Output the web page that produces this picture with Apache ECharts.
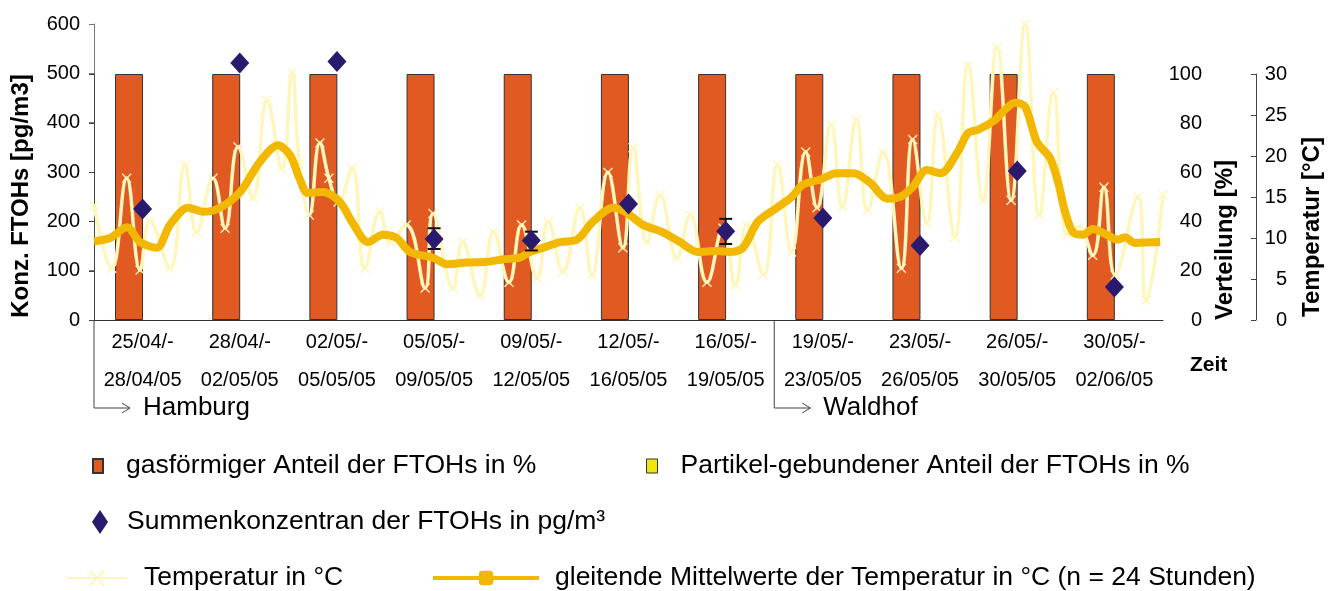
<!DOCTYPE html>
<html>
<head>
<meta charset="utf-8">
<script src="https://cdn.jsdelivr.net/npm/echarts@6/dist/echarts.min.js"></script>
<style>
  html, body { margin: 0; padding: 0; background: #fff; }
  #chart { width: 1335px; height: 591px; }
</style>
</head>
<body>
<div id="chart"></div>
<script>
// sampling periods, two label lines each
const periodStart = ['25/04/-', '28/04/-', '02/05/-', '05/05/-', '09/05/-', '12/05/-', '16/05/-', '19/05/-', '23/05/-', '26/05/-', '30/05/-']
const periodEnd = ['28/04/05', '02/05/05', '05/05/05', '09/05/05', '12/05/05', '16/05/05', '19/05/05', '23/05/05', '26/05/05', '30/05/05', '02/06/05']

// distribution gas / particle in %
const gasShare = [100, 100, 100, 100, 100, 100, 100, 100, 100, 100, 100]
const particleShare = [0, 0, 0, 0, 0, 0, 0, 0, 0, 0, 0]

// sum concentration in pg/m3 and error range
const sumConc = [225, 521, 524, 164, 161, 235, 180, 207, 151, 302, 67]
const errIndex = [3, 4, 6]
const errLow = [144, 141, 154]
const errHigh = [186, 179, 205]

// hourly temperature, read at turning points (day since 25/04, °C)
const tempDay = [0, 0.63, 1.16, 1.64, 1.99, 2.7, 3.23, 3.65, 4.23, 4.66, 5.12, 5.65, 6.15, 6.68, 7.04, 7.3, 7.65, 8.03, 8.35, 8.68,
  9.17, 9.63, 10.17, 10.52, 11.1, 11.77, 12.05, 12.76, 13.1, 13.72, 14.2, 14.75, 15.2, 15.75, 16.15, 16.67, 17.27, 17.7, 18.27, 18.8,
  19.16, 19.66, 20.12, 20.72, 21.19, 21.79, 22.36, 22.8, 23.2, 23.8, 24.3, 24.8, 25.3, 25.7, 26.2, 26.6, 27.1, 27.5, 28.05, 28.7,
  29.1, 29.6, 30.0, 30.6, 31.07, 31.6, 32.1, 32.6, 33.1, 33.6, 34.1, 34.6, 35.0, 35.5, 35.9, 36.3, 37.1, 37.4, 38.0]
const tempValue = [14.0, 6.3, 17.3, 6.1, 12.0, 6.3, 18.9, 10.7, 17.3, 11.2, 21.1, 14.9, 26.8, 18.5, 30.2, 19.0, 12.8, 21.6, 17.3, 14.4,
  18.5, 6.3, 13.2, 9.5, 11.6, 3.9, 13.0, 3.9, 9.5, 3.0, 10.7, 4.6, 11.6, 5.1, 12.0, 5.9, 13.7, 5.5, 18.0, 8.8,
  21.0, 9.5, 15.2, 7.6, 12.8, 4.6, 11.2, 4.3, 11.6, 5.5, 18.9, 8.3, 20.5, 13.7, 23.8, 13.8, 24.4, 13.4, 20.4, 6.3,
  22.0, 11.8, 25.0, 10.1, 31.1, 14.6, 33.2, 14.6, 36.0, 12.8, 27.7, 10.4, 11.3, 7.9, 16.2, 5.5, 15.0, 2.4, 15.2]

// 24 h moving average (day, °C)
const avgDay = [0, 0.57, 1.17, 1.64, 2.23, 2.7, 3.34, 3.88, 4.48, 5.19, 5.9, 6.54, 6.97, 7.3, 7.6, 8.14, 8.74, 9.2, 9.74, 10.27,
  10.76, 11.23, 12.05, 12.55, 13.25, 13.97, 14.55, 15.14, 15.5, 15.96, 16.57, 17.17, 17.74, 18.45, 18.88, 19.52, 20.23, 20.83, 21.47, 22.15,
  22.6, 23.07, 23.6, 24.28, 24.8, 25.2, 25.8, 26.4, 27.0, 27.6, 28.2, 28.65, 29.1, 29.6, 30.1, 30.7, 31.07, 31.43, 32.03, 32.31,
  32.74, 33.1, 33.52, 33.98, 34.27, 34.52, 34.8, 35.16, 35.5, 36.0, 36.4, 36.65, 37.0, 37.9]
const avgValue = [9.6, 10.0, 11.3, 9.5, 8.8, 11.6, 13.7, 13.2, 13.7, 15.6, 19.3, 21.3, 20.1, 17.3, 15.5, 15.6, 14.4, 11.8, 9.5, 10.4,
  10.0, 8.3, 7.6, 6.8, 7.0, 7.1, 7.4, 7.6, 8.3, 8.8, 9.5, 9.8, 12.0, 13.7, 13.2, 11.6, 10.7, 9.5, 8.3, 8.4,
  8.3, 8.8, 12.0, 13.7, 15.0, 16.5, 17.1, 17.9, 17.9, 16.7, 14.8, 15.0, 16.2, 18.3, 17.9, 20.5, 22.8, 23.2, 24.4, 25.4,
  26.5, 26.0, 21.7, 19.8, 16.8, 13.2, 10.7, 10.4, 11.1, 10.4, 9.8, 10.1, 9.4, 9.5]

const sites = ['Hamburg', 'Waldhof']
const siteStart = [0, 7]

const FONT = 'Liberation Sans, Arial, sans-serif'
const names = {
  gas: 'gasförmiger Anteil der FTOHs in %',
  part: 'Partikel-gebundener Anteil der FTOHs in %',
  sum: 'Summenkonzentran der FTOHs in pg/m³',
  temp: 'Temperatur in °C',
  avg: 'gleitende Mittelwerte der Temperatur in °C (n = 24 Stunden)'
}

const categories = periodStart.map((s, i) => s + '\n' + periodEnd[i])
const tempData = tempDay.map((d, i) => [d, tempValue[i]])
const avgData = avgDay.map((d, i) => [d, avgValue[i]])
const errData = errIndex.map((c, i) => [c, errLow[i], errHigh[i]])

const xShape = 'path://M0,2 L2,0 L10,8 L18,0 L20,2 L12,10 L20,18 L18,20 L10,12 L2,20 L0,18 L8,10 Z'
const legendText = { fontFamily: FONT, fontSize: 26.5, color: '#000', lineHeight: 30 }
const axisName = { fontSize: 24, fontWeight: 'bold', color: '#000' }

const chart = echarts.init(document.getElementById('chart'))

const option = {
  animation: false,
  textStyle: { fontFamily: FONT },
  grid: [
    { left: 94, right: 172, top: 24, bottom: 271 },
    { left: 94, right: 172, top: 74, bottom: 271 }
  ],
  xAxis: [
    {
      type: 'category',
      gridIndex: 0,
      data: categories,
      axisLine: { lineStyle: { color: '#333', width: 1 } },
      axisTick: { length: 5, lineStyle: { color: '#333' } },
      axisLabel: { color: '#000', fontSize: 20, lineHeight: 38, margin: 3, interval: 0 },
      name: 'Zeit',
      nameLocation: 'end',
      nameGap: 27,
      nameTextStyle: { fontSize: 21, fontWeight: 'bold', color: '#000', verticalAlign: 'top', lineHeight: 90 }
    },
    { type: 'category', gridIndex: 1, data: categories, show: false },
    { type: 'value', gridIndex: 1, min: 0, max: 38, show: false }
  ],
  yAxis: [
    {
      type: 'value',
      gridIndex: 0,
      min: 0,
      max: 600,
      interval: 100,
      name: 'Konz. FTOHs [pg/m3]',
      nameLocation: 'middle',
      nameGap: 61,
      nameTextStyle: Object.assign({ padding: [0, 48, 0, 0] }, axisName),
      axisLine: { show: true, lineStyle: { color: '#777' } },
      axisTick: { show: true, length: 5, lineStyle: { color: '#777' } },
      axisLabel: { color: '#000', fontSize: 20, margin: 14 },
      splitLine: { show: false }
    },
    {
      type: 'value',
      gridIndex: 1,
      position: 'right',
      min: 0,
      max: 100,
      interval: 20,
      name: 'Verteilung [%]',
      nameLocation: 'middle',
      nameGap: 48,
      nameTextStyle: Object.assign({ padding: [0, 86, 0, 0] }, axisName),
      axisLine: { show: true, lineStyle: { color: '#444' } },
      axisTick: { show: true, inside: true, length: 5, lineStyle: { color: '#444' } },
      axisLabel: { color: '#000', fontSize: 20, margin: 39, align: 'right' },
      splitLine: { show: false }
    },
    {
      type: 'value',
      gridIndex: 1,
      position: 'right',
      offset: 93,
      min: 0,
      max: 30,
      interval: 5,
      name: 'Temperatur [°C]',
      nameLocation: 'middle',
      nameGap: 44,
      nameTextStyle: Object.assign({ padding: [0, 60, 0, 0] }, axisName),
      axisLine: { show: true, lineStyle: { color: '#444' } },
      axisTick: { show: true, inside: true, length: 5, lineStyle: { color: '#444' } },
      axisLabel: { color: '#000', fontSize: 20, margin: 31, align: 'right' },
      splitLine: { show: false }
    }
  ],
  legend: [
    {
      data: [{ name: names.gas, icon: 'rect' }], left: 92, top: 451, padding: 0, itemWidth: 10, itemHeight: 14,
      textStyle: Object.assign({ padding: [0, 0, 0, 18] }, legendText)
    },
    {
      data: [{ name: names.part, icon: 'rect' }], left: 646, top: 451, padding: 0, itemWidth: 11, itemHeight: 14,
      itemStyle: { borderColor: '#333', borderWidth: 1 },
      textStyle: Object.assign({ padding: [0, 0, 0, 18] }, legendText)
    },
    {
      data: [names.sum], left: 92, top: 507, padding: 0, itemWidth: 16, itemHeight: 24,
      textStyle: Object.assign({ padding: [0, 0, 0, 14] }, legendText)
    },
    {
      data: [names.temp], left: 66, top: 563, padding: 0, itemWidth: 60, itemHeight: 20,
      lineStyle: { width: 2 },
      textStyle: Object.assign({ padding: [0, 0, 0, 12] }, legendText)
    },
    {
      data: [names.avg], left: 431, top: 563, padding: 0, itemWidth: 106, itemHeight: 18,
      lineStyle: { width: 4 },
      textStyle: Object.assign({ padding: [0, 0, 0, 11] }, legendText)
    }
  ],
  series: [
    {
      name: names.gas,
      type: 'bar',
      xAxisIndex: 1,
      yAxisIndex: 1,
      data: gasShare,
      barWidth: 28,
      barGap: '-3%',
      itemStyle: { color: '#E05A22', borderColor: '#333', borderWidth: 1 },
      z: 1
    },
    {
      name: names.part,
      type: 'bar',
      xAxisIndex: 1,
      yAxisIndex: 1,
      data: particleShare,
      barWidth: 28,
      itemStyle: { color: '#EFE60C', borderWidth: 0 },
      z: 1
    },
    {
      name: names.temp,
      type: 'line',
      xAxisIndex: 2,
      yAxisIndex: 2,
      data: tempData,
      smooth: 0.45,
      clip: false,
      symbol: xShape,
      symbolSize: 10,
      showSymbol: true,
      lineStyle: { color: '#FFF6BC', width: 3.5 },
      itemStyle: { color: '#FFF6BC' },
      z: 2
    },
    {
      name: names.avg,
      type: 'line',
      xAxisIndex: 2,
      yAxisIndex: 2,
      data: avgData,
      smooth: 0.3,
      clip: false,
      symbol: 'roundRect',
      showSymbol: false,
      lineStyle: { color: '#F2B800', width: 8 },
      itemStyle: { color: '#F2B800' },
      z: 3
    },
    {
      name: 'err',
      type: 'custom',
      xAxisIndex: 0,
      yAxisIndex: 0,
      data: errData,
      z: 4,
      renderItem: (params, api) => {
        const c = api.value(0)
        const lo = api.coord([c, api.value(1)])
        const hi = api.coord([c, api.value(2)])
        const style = { stroke: '#111', lineWidth: 2 }
        return {
          type: 'group',
          children: [
            { type: 'line', shape: { x1: lo[0], y1: lo[1], x2: hi[0], y2: hi[1] }, style },
            { type: 'line', shape: { x1: lo[0] - 6.5, y1: lo[1], x2: lo[0] + 6.5, y2: lo[1] }, style },
            { type: 'line', shape: { x1: hi[0] - 6.5, y1: hi[1], x2: hi[0] + 6.5, y2: hi[1] }, style }
          ]
        }
      }
    },
    {
      name: names.sum,
      type: 'scatter',
      xAxisIndex: 0,
      yAxisIndex: 0,
      data: sumConc,
      symbol: 'diamond',
      symbolSize: [19, 21],
      itemStyle: { color: '#2A1A6E', opacity: 1 },
      z: 5
    }
  ]
}

chart.setOption(option)

// site brackets below the time axis, placed from the category scale
const c0 = chart.convertToPixel({ xAxisIndex: 0 }, 0)
const c1 = chart.convertToPixel({ xAxisIndex: 0 }, 1)
const band = c1 - c0
const yBase = chart.convertToPixel({ yAxisIndex: 0 }, 0)
const drop = 88
const graphics = []
sites.forEach((site, i) => {
  const x = c0 - band / 2 + siteStart[i] * band
  const y = yBase + drop
  graphics.push({
    type: 'polyline',
    shape: { points: [[x, yBase], [x, y], [x + 36, y]] },
    style: { stroke: '#444', lineWidth: 1, fill: null }
  })
  graphics.push({
    type: 'polyline',
    shape: { points: [[x + 28, y - 5], [x + 36, y], [x + 28, y + 5]] },
    style: { stroke: '#444', lineWidth: 1, fill: null }
  })
  graphics.push({
    type: 'text',
    x: x + 49,
    y: y,
    style: { text: site, fontFamily: FONT, fontSize: 26, fill: '#000', verticalAlign: 'middle' }
  })
})
chart.setOption({ graphic: graphics })
</script>
</body>
</html>
